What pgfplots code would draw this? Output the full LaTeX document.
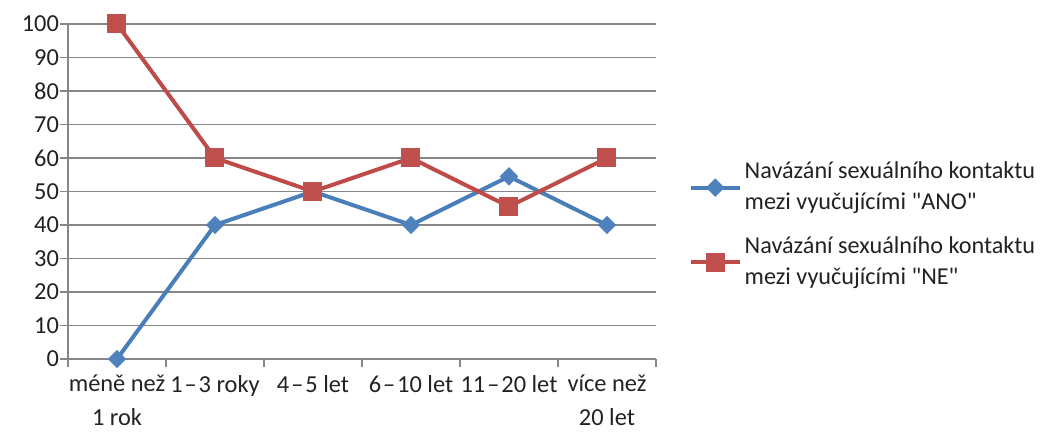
\documentclass[border=0pt]{standalone}
\usepackage{pgfplots}
\pgfplotsset{compat=1.18}
\usepackage{fontspec}
\setmainfont{Carlito}[Ligatures=TeXOff]
\definecolor{gridc}{HTML}{868686}
\definecolor{txt}{HTML}{222222}
\definecolor{blueL}{HTML}{4A7EBB}
\definecolor{blueM}{HTML}{4F81BD}
\definecolor{redL}{HTML}{BE4B48}
\definecolor{redM}{HTML}{C0504D}
\begin{document}
\begin{tikzpicture}
\begin{axis}[
  scale only axis,
  width=294pt, height=167.5pt,
  xmin=-0.5, xmax=5.5,
  ymin=0, ymax=100,
  ytick={0,10,...,100},
  xtick={0,1,2,3,4,5},
  xticklabels={{méně než\\1 rok},{1\kern0.08em–\kern0.08em3 roky},{4\kern0.08em–\kern0.08em5 let},{6\kern0.08em–\kern0.08em10 let},{11\kern0.08em–\kern0.08em20 let},{více než\\20 let}},
  xticklabel style={align=center, font=\fontsize{12.2}{16.8}\selectfont, yshift=-4.5pt, text=txt},
  yticklabel style={font=\fontsize{12.2}{12}\selectfont, xshift=-1pt, text=txt},
  /pgf/number format/assume math mode=true,
  minor xtick={-0.5,0.5,...,5.5},
  major tick length=0pt,
  minor tick length=4pt,
  tick align=outside,
  xtick pos=bottom,
  ytick pos=left,
  extra y ticks={0,10,...,100},
  extra y tick labels={},
  extra y tick style={major tick length=4pt, tick style={gridc, line width=0.6pt}, grid=none},
  ymajorgrids,
  grid style={gridc, line width=0.6pt},
  minor tick style={gridc, line width=0.6pt},
  axis line style={gridc, line width=0.6pt},
  axis x line*=bottom,
  axis y line*=left,
  clip=false,
  legend style={draw=none, fill=none, inner sep=0pt, at={(rel axis cs:1.055,0.4)}, anchor=west,
    font=\fontsize{12.1}{15.5}\selectfont, row sep=8pt, text=txt, nodes={inner xsep=1.5pt}},
  legend cell align=left,
  legend style={cells={align=left}},
  legend image code/.code={
    \draw[#1, mark=none] (0pt,0pt) -- (24.5pt,0pt);
    \path[#1, line width=0pt] plot coordinates {(12.25pt,0pt)};
  },
]
\addplot[blueL, line width=2pt, mark=square*, mark size=3pt,
  mark options={rotate=45, fill=blueM, draw=blueM, line width=0.5pt}]
  coordinates {(0,0) (1,40) (2,50) (3,40) (4,54.5) (5,40)};
\addlegendentry{Navázání sexuálního kontaktu\\mezi vyučujícími "ANO"}
\addplot[redL, line width=2pt, mark=square*, mark size=4.5pt,
  mark options={fill=redM, draw=redM, line width=0.5pt}]
  coordinates {(0,100) (1,60) (2,50) (3,60) (4,45.5) (5,60)};
\addlegendentry{Navázání sexuálního kontaktu\\mezi vyučujícími "NE"}
\end{axis}
\path (-34pt,-34.5pt) rectangle (487.5pt,179.5pt);
\end{tikzpicture}
\end{document}
